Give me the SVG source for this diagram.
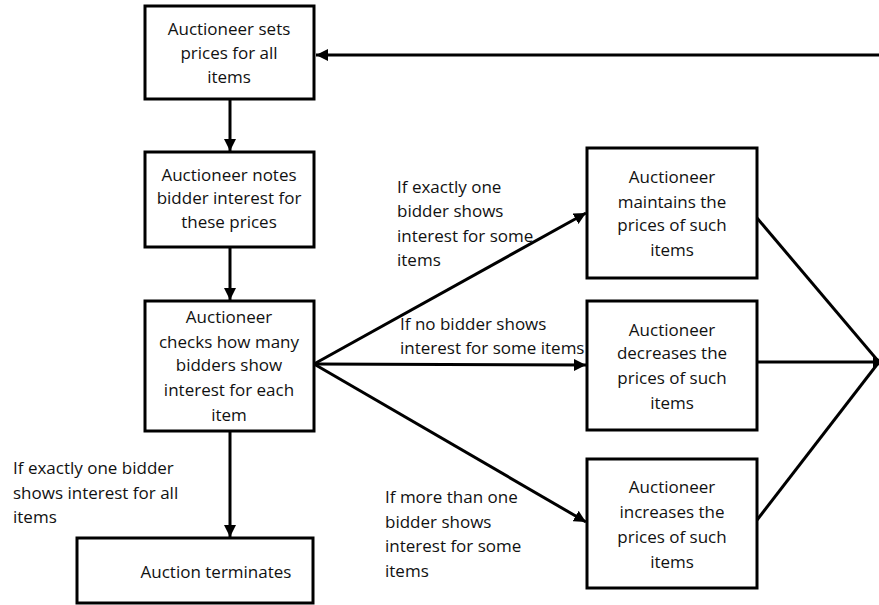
<svg xmlns="http://www.w3.org/2000/svg" width="879" height="605" viewBox="0 0 879 605">
<defs>
<style>
.box{fill:#fff;stroke:#000;stroke-width:3}
.t{font-family:"Open Sans","Liberation Sans",Arial,sans-serif;font-size:17px;fill:#111;text-anchor:middle}
.l{font-family:"Open Sans","Liberation Sans",Arial,sans-serif;font-size:17px;fill:#111}
.c{fill:none;stroke:#000;stroke-width:3}
</style>
<marker id="ah" markerUnits="userSpaceOnUse" markerWidth="14" markerHeight="12" refX="12" refY="6" orient="auto">
<path d="M0,0 L12,6 L0,12 z" fill="#000"/>
</marker>
</defs>
<g id="connectors">
<line class="c" x1="879" y1="55" x2="316" y2="55" marker-end="url(#ah)"/>
<line class="c" x1="230" y1="99" x2="230" y2="151" marker-end="url(#ah)"/>
<line class="c" x1="230" y1="247" x2="230" y2="300" marker-end="url(#ah)"/>
<line class="c" x1="230" y1="431" x2="230" y2="537" marker-end="url(#ah)"/>
<line class="c" x1="314" y1="364" x2="586" y2="213" marker-end="url(#ah)"/>
<line class="c" x1="314" y1="364" x2="586" y2="365" marker-end="url(#ah)"/>
<line class="c" x1="314" y1="364" x2="586" y2="522" marker-end="url(#ah)"/>
<line class="c" x1="757" y1="218" x2="879" y2="362"/>
<line class="c" x1="757" y1="362" x2="885" y2="362" marker-end="url(#ah)"/>
<line class="c" x1="757" y1="520" x2="879" y2="362"/>
</g>
<g id="n1"><rect class="box" x="145" y="6" width="169" height="93"/>
<text class="t" x="229" y="35">Auctioneer sets</text><text class="t" x="229" y="59">prices for all</text><text class="t" x="229" y="83">items</text></g>
<g id="n2"><rect class="box" x="145" y="152" width="169" height="95"/>
<text class="t" x="229" y="181">Auctioneer notes</text><text class="t" x="229" y="204">bidder interest for</text><text class="t" x="229" y="228">these prices</text></g>
<g id="n3"><rect class="box" x="145" y="301" width="169" height="130"/>
<text class="t" x="229" y="323">Auctioneer</text><text class="t" x="229" y="348">checks how many</text><text class="t" x="229" y="371">bidders show</text><text class="t" x="229" y="396">interest for each</text><text class="t" x="229" y="421">item</text></g>
<g id="n4"><rect class="box" x="587" y="148" width="170" height="130"/>
<text class="t" x="672" y="183">Auctioneer</text><text class="t" x="672" y="208">maintains the</text><text class="t" x="672" y="231">prices of such</text><text class="t" x="672" y="256">items</text></g>
<g id="n5"><rect class="box" x="587" y="301" width="170" height="129"/>
<text class="t" x="672" y="336">Auctioneer</text><text class="t" x="672" y="359">decreases the</text><text class="t" x="672" y="384">prices of such</text><text class="t" x="672" y="409">items</text></g>
<g id="n6"><rect class="box" x="587" y="459" width="170" height="129"/>
<text class="t" x="672" y="493">Auctioneer</text><text class="t" x="672" y="518">increases the</text><text class="t" x="672" y="543">prices of such</text><text class="t" x="672" y="568">items</text></g>
<g id="n7"><rect class="box" x="77" y="538" width="236" height="65"/>
<text class="t" x="216" y="578">Auction terminates</text></g>
<g id="labels">
<text class="l" x="397" y="193">If exactly one</text><text class="l" x="397" y="217">bidder shows</text><text class="l" x="397" y="242">interest for some</text><text class="l" x="397" y="266">items</text>
<text class="l" x="400" y="330">If no bidder shows</text><text class="l" x="400" y="354">interest for some items</text>
<text class="l" x="385" y="503">If more than one</text><text class="l" x="385" y="528">bidder shows</text><text class="l" x="385" y="552">interest for some</text><text class="l" x="385" y="577">items</text>
<text class="l" x="13" y="474">If exactly one bidder</text><text class="l" x="13" y="499">shows interest for all</text><text class="l" x="13" y="523">items</text>
</g>
</svg>
